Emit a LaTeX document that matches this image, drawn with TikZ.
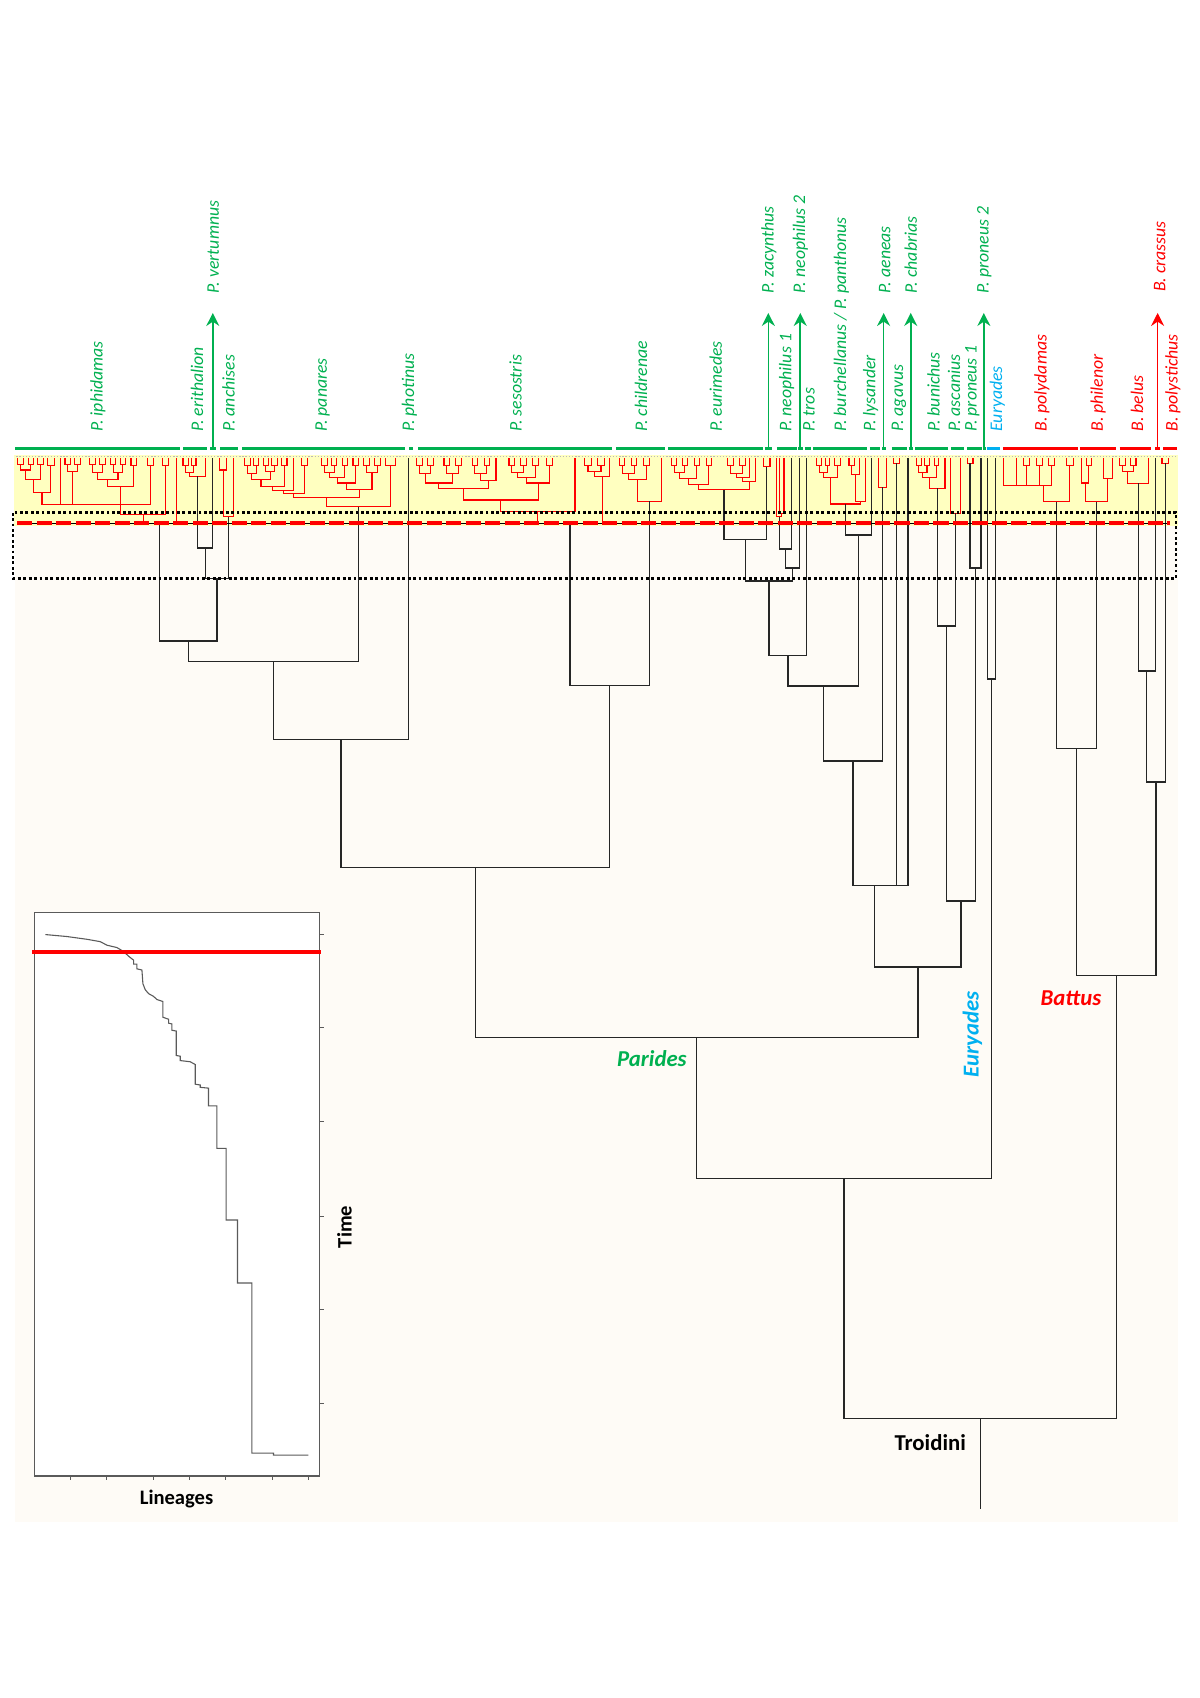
\documentclass[tikz,border=0pt]{standalone}
\usepackage{fontspec}
\setmainfont{Carlito}
\usetikzlibrary{arrows.meta,calc}
\definecolor{pgreen}{RGB}{0,176,80}
\definecolor{pblue}{RGB}{0,176,240}
\definecolor{pred}{RGB}{255,0,0}
\definecolor{pyellow}{RGB}{255,255,192}
\definecolor{pcream}{RGB}{254,251,246}
\definecolor{lttgray}{RGB}{90,90,90}
\tikzset{
  btree/.style={line width=0.6pt, black!85},
  redtree/.style={line width=0.5pt, pred},
  gbar/.style={line width=1.4pt},
  slab/.style={rotate=90, anchor=west, inner sep=0pt, font=\fontsize{8.2}{10}\selectfont\itshape},
  garrow/.style={line width=0.75pt, -{Stealth[length=6pt,width=6pt,inset=2pt]}},
  grp/.style={font=\fontsize{10.5}{12}\selectfont\bfseries\itshape, inner sep=0pt},
  axlab/.style={font=\fontsize{9.5}{11}\selectfont\bfseries, inner sep=0pt},
  ltt/.style={line width=0.5pt, lttgray},
}
\newcommand\RJ[5]{\draw[redtree] (#1,#2) -- (#1,#5) -- (#3,#5) -- (#3,#4);}
\newcommand\RC[3]{\RJ{#1}{423}{#2}{423}{#3}}
\newcommand\mnode[4]{\path let \p1=(#2), \p2=(#3), \p3=(0,#4) in coordinate (#1) at ({0.5*\x1+0.5*\x2},\y3);}
\begin{document}
\begin{tikzpicture}[x=0.5pt,y=-0.5pt]
\useasboundingbox (0,0) rectangle (1108,1568);
% backgrounds
\fill[pcream] (14,420) rectangle (1088,1405);
\fill[pyellow] (13,420) rectangle (1088,486);
\draw[gray!55, line width=0.7pt, dash pattern=on 0.6pt off 0.85pt] (15,421.5) -- (1086,421.5);

% ---------- red fine-scale trees ----------
% iphidamas
\RC{16}{22}{429}\RC{26}{31}{429}\RJ{19}{429}{28.5}{429}{434}
\RC{35}{40}{429}\RJ{23.75}{434}{37.5}{429}{443}
\RC{44}{50}{430}\RJ{30.6}{443}{47}{430}{455}
\draw[redtree] (55.5,423) -- (55.5,466);
\RC{60}{65}{429}\RC{69}{74}{429}\RJ{62.5}{429}{71.5}{429}{435}
\draw[redtree] (67,435) -- (67,466);
\RC{83}{88}{429}\RC{92}{97}{429}\RJ{85.5}{429}{94.5}{429}{436}
\RC{102}{107}{429}\RC{111}{116}{429}\RJ{104.5}{429}{113.5}{429}{436}
\RJ{90}{436}{109}{436}{443}
\RC{121}{126}{430}\RJ{99.5}{443}{123.5}{430}{449}
\draw[redtree] (111.5,449) -- (111.5,466);
\RC{136}{142}{430}
\draw[redtree] (38.8,455) -- (38.8,466) -- (139,466) -- (139,430);
\RC{150}{156}{430}
\RJ{111.5}{466}{153}{430}{475.5}
\RJ{132.25}{475.5}{163}{423}{483}
% erithalion
\RC{169}{174}{430}\RC{177}{181}{430}\RJ{171.5}{430}{179}{430}{436}
\RJ{175.25}{436}{190}{423}{440}
% anchises
\RC{203}{209}{434}\RJ{206}{434}{216}{423}{477}
% panares
\RC{226}{231}{430}\RC{234}{239}{430}\RJ{228.5}{430}{236.5}{430}{437}
\RC{243}{248}{430}\RC{251}{256}{430}\RJ{245.5}{430}{253.5}{430}{435}
\RJ{232.5}{437}{249.5}{435}{443}
\RC{260}{265}{430}\RJ{241}{443}{262.5}{430}{449}
\RJ{251.75}{449}{271}{423}{453}
\RC{278}{284}{430}\RJ{261.4}{453}{281}{430}{456}
\RC{297}{302}{430}\RC{306}{311}{430}\RJ{299.5}{430}{308.5}{430}{436}
\RC{316}{321}{430}\RJ{304}{436}{318.5}{430}{441}
\RC{326}{331}{430}\RJ{311.25}{441}{328.5}{430}{446}
\RC{336}{341}{430}\RC{346}{351}{430}\RJ{338.5}{430}{348.5}{430}{436}
\RJ{319.9}{446}{343.5}{436}{452}
\RJ{271.2}{456}{331.7}{452}{459}
\RC{356}{365}{430}
\RJ{301.45}{459}{360.5}{430}{468}
% sesostris
\RC{385}{390}{430}\RC{395}{400}{430}\RJ{387.5}{430}{397.5}{430}{437}
\RC{410}{415}{430}\RC{421}{426}{430}\RJ{412.5}{430}{423.5}{430}{437}
\RJ{392.5}{437}{418}{437}{446}
\RC{436}{441}{430}\RC{447}{452}{430}\RJ{438.5}{430}{449.5}{430}{437}
\RJ{444}{437}{458}{423}{444}
\RJ{405.25}{446}{451}{444}{451}
\RC{470}{475}{430}\RC{481}{486}{430}\RJ{472.5}{430}{483.5}{430}{436}
\RC{492}{497}{430}\RJ{478}{436}{494.5}{430}{441}
\RC{505}{510}{430}\RJ{486.25}{441}{507.5}{430}{446}
\RJ{428.1}{451}{496.9}{446}{461.7}
\RJ{462.5}{461.7}{531}{423}{472.4}
\RC{540}{546}{430}\RC{552}{558}{430}\RJ{543}{430}{555}{430}{435}
\RJ{549}{435}{563}{423}{440}
\RJ{496.75}{472.4}{556}{440}{483}
% childrenae
\RC{572}{577}{430}\RC{583}{588}{430}\RJ{574.5}{430}{585.5}{430}{437}
\RC{594}{600}{430}\RJ{580}{437}{597}{430}{443}
\RJ{588.5}{443}{611}{423}{463}
% eurimedes
\RC{620}{625}{430}\RC{630}{635}{430}\RJ{622.5}{430}{632.5}{430}{436}
\RC{641}{646}{430}\RJ{627.5}{436}{643.5}{430}{442}
\RC{652}{657}{430}\RJ{635.5}{442}{654.5}{430}{447}
\RC{672}{677}{430}\RC{683}{688}{430}\RJ{674.5}{430}{685.5}{430}{437}
\RJ{680}{437}{692}{423}{441}
\RJ{686}{441}{698}{423}{445}
\RJ{645}{447}{692}{445}{452.4}
% zacynthus, neophilus 1
\RC{705}{711}{431}
\RC{720}{724}{474}\RJ{717}{423}{722}{474}{477}
% burchellanus
\RC{754}{759}{430}\RC{762}{766}{430}\RJ{756.5}{430}{764}{430}{436}
\RC{771}{776}{430}\RJ{760.25}{436}{773.5}{430}{441}
\RC{784}{789}{430}\RJ{786.5}{430}{794}{423}{438}
\RJ{790.25}{438}{799}{423}{463}
\RJ{766.9}{441}{794.6}{463}{465.4}
% aeneas, agavus
\RC{811}{819}{450}
\RC{825}{831}{428}
% bunichus
\RC{846}{851}{430}\RC{854}{858}{430}\RJ{848.5}{430}{856}{430}{436}
\RC{863}{867}{430}\RJ{852.25}{436}{865}{430}{441}
\RJ{858.6}{441}{872.6}{423}{451}
% ascanius, proneus 1
\RC{878}{887}{474}
\RC{893}{898.5}{428}
% polydamas
\draw[redtree] (927,423) -- (927,448) -- (971,448);
\draw[redtree] (939,423) -- (939,448);
\RC{945}{951}{430}\draw[redtree] (948,430) -- (948,448);
\RC{957}{963}{430}\draw[redtree] (960,430) -- (960,448);
\RC{968}{974}{430}\draw[redtree] (971,430) -- (971,448);
\RC{985}{991}{430}
\RJ{963.4}{448}{988}{430}{463.2}
% philenor
\RC{1003}{1008}{430}\RJ{999}{423}{1005.5}{430}{446}
\RC{1019}{1027}{441.7}
\RJ{1002.25}{446}{1023}{441.7}{463.2}
% belus
\RC{1034}{1039}{430}\RC{1044}{1049}{430}\RJ{1036.5}{430}{1046.5}{430}{435}
\RJ{1041.5}{435}{1060.5}{423}{446.3}
% polystichus
\RC{1073}{1079}{428}

% ---------- black backbone tree ----------
\coordinate (iph) at (147.6,483);
\coordinate (erit) at (182.6,440);
\coordinate (vert) at (196.5,423);
\mnode{nev}{erit}{vert}{506}
\coordinate (anch) at (211,477);
\mnode{neva}{nev}{anch}{534}
\mnode{nieva}{iph}{neva}{592}
\coordinate (pan) at (331,468);
\mnode{np1}{nieva}{pan}{611}
\coordinate (phot) at (377.5,423);
\mnode{np2}{np1}{phot}{683}
\coordinate (ses) at (526.4,483);
\coordinate (chi) at (599.75,463);
\mnode{nsc}{ses}{chi}{633}
\mnode{np3}{np2}{nsc}{801}
\coordinate (eur) at (668.5,452.4);
\coordinate (zac) at (708,431);
\mnode{nez}{eur}{zac}{498}
\coordinate (neoa) at (719.5,477);
\coordinate (neob) at (731,423);
\mnode{nn1}{neoa}{neob}{507}
\coordinate (neoc) at (738.5,423);
\mnode{nn2}{nn1}{neoc}{524.5}
\mnode{nezn}{nez}{nn2}{536.5}
\coordinate (tros) at (745,423);
\mnode{nt}{nezn}{tros}{605}
\coordinate (bur) at (780.75,465.4);
\coordinate (lys) at (805,423);
\mnode{nbl}{bur}{lys}{494}
\mnode{ntb}{nt}{nbl}{633.5}
\coordinate (aen) at (815,450);
\mnode{nta}{ntb}{aen}{702.6}
\coordinate (aga) at (828,428);
\coordinate (cha) at (838.5,423);
\mnode{nx}{nta}{aga}{818}
\coordinate (bun) at (865.6,451);
\coordinate (asc) at (882.5,474);
\mnode{nba}{bun}{asc}{578}
\coordinate (pro1) at (895.75,428);
\coordinate (pro2) at (906,423);
\mnode{npr}{pro1}{pro2}{524.5}
\mnode{nbap}{nba}{npr}{832}
\mnode{npar1}{nx}{nbap}{893}
\mnode{npar}{np3}{npar1}{958}
\coordinate (eu1) at (912,423);
\coordinate (eu2) at (919,423);
\mnode{neu}{eu1}{eu2}{627}
\mnode{npe}{npar}{neu}{1088}
\coordinate (poly) at (975.7,463.2);
\coordinate (phil) at (1012.6,463.2);
\mnode{npp}{poly}{phil}{691}
\coordinate (bel) at (1051,446.3);
\coordinate (cra) at (1067,423);
\mnode{nbc}{bel}{cra}{619.5}
\coordinate (polys) at (1076,428);
\mnode{nbcp}{nbc}{polys}{722}
\mnode{nbat}{npp}{nbcp}{901}
\mnode{root}{npe}{nbat}{1310}
\coordinate (rootbase) at ($(root)+(0,83)$);
\foreach \a/\b in {iph/nieva, erit/nev, vert/nev, nev/neva, anch/neva, neva/nieva,
  nieva/np1, pan/np1, np1/np2, phot/np2, np2/np3, ses/nsc, chi/nsc, nsc/np3, np3/npar,
  eur/nez, zac/nez, nez/nezn, neoa/nn1, neob/nn1, nn1/nn2, neoc/nn2, nn2/nezn,
  nezn/nt, tros/nt, nt/ntb, bur/nbl, lys/nbl, nbl/ntb, ntb/nta, aen/nta, nta/nx,
  aga/nx, cha/nx, nx/npar1, bun/nba, asc/nba, nba/nbap, pro1/npr, pro2/npr, npr/nbap,
  nbap/npar1, npar1/npar, npar/npe, eu1/neu, eu2/neu, neu/npe, npe/root,
  poly/npp, phil/npp, npp/nbat, bel/nbc, cra/nbc, nbc/nbcp, polys/nbcp, nbcp/nbat, nbat/root}
  \draw[btree] (\a) |- (\b);
\draw[btree] (root) -- (rootbase);

% ---------- threshold line and dotted box ----------
\draw[black, line width=0.4pt] (16,483) -- (1080,483);
\draw[pred, line width=2.1pt, dash pattern=on 7pt off 2pt] (16,483) -- (1080,483);
\draw[line width=1.3pt, dash pattern=on 1.3pt off 1.2pt] (12,473.5) rectangle (1086,534);

% ---------- coloured bars ----------
\foreach \a/\b in {13.9/166.2, 169/191, 194/199.5, 203/220, 223.5/374, 377.7/381.4,
  386/565, 569/614, 617/704.5, 706/713, 717.5/736, 737/741.5, 743/749, 751/800.5,
  803/812.6, 814.5/818, 823.6/837.5, 839/843, 845/875, 878/890, 893/907, 907.6/910.5}
  \draw[gbar, pgreen] (\a,414) -- (\b,414);
\draw[gbar, pblue] (911,414) -- (923,414);
\foreach \a/\b in {926/995.4, 997/1031, 1034/1063, 1067/1071, 1074/1087}
  \draw[gbar, pred] (\a,414) -- (\b,414);

% arrows
\foreach \x in {196.5,709.5,739,816,841,908.5}
  \draw[garrow, pgreen] (\x,414) -- (\x,289);
\draw[garrow, pred] (1069,414) -- (1069,289);

% species labels
\foreach \x/\t [count=\i] in {90.5/P. iphidamas, 182/P. erithalion, 211/P. anchises,
  298/P. panares, 378/P. photinus, 476/P. sesostris, 592/P. childrenae,
  661/P. eurimedes, 726.5/P. neophilus 1, 747/P. tros, 804/P. lysander,
  830/P. agavus, 862/P. bunichus, 881/P. ascanius, 898/P. proneus 1}
  \node[slab, text=pgreen] (g\i) at (\x,399) {\t};
\node[slab, text=pgreen] (gbur) at (777,399) {P. burchellanus / P. panthonus};
\foreach \x/\t [count=\i] in {197/P. vertumnus, 710/P. zacynthus, 739/P. neophilus 2,
  817/P. aeneas, 841/P. chabrias, 909/P. proneus 2}
  \node[slab, text=pgreen] (ga\i) at (\x,271) {\t};
\node[slab, text=pblue] (geu) at (921,399) {Euryades};
\foreach \x/\t [count=\i] in {962/B. polydamas, 1014/B. philenor, 1050/B. belus,
  1083/B. polystichus}
  \node[slab, text=pred] (gb\i) at (\x,399) {\t};
\node[slab, text=pred] (gbc) at (1071,270) {B. crassus};

% group labels
\node[grp, text=pgreen] (parides) at (602,978) {Parides};
\node[grp, text=pred] (battus) at (989,922) {Battus};
\node[grp, text=pblue, rotate=90] (euryades) at (898,955) {Euryades};
\node[font=\fontsize{10.5}{12}\selectfont\bfseries, inner sep=0pt] (troidini) at (859,1332) {Troidini};

% ---------- LTT inset ----------
\fill[white] (32,843) rectangle (295,1363);
\draw[lttgray, line width=0.5pt] (32,843) rectangle (295,1363);
\foreach \y in {863,949.2,1035.7,1123,1209.2,1295.7}
  \draw[lttgray, line width=0.5pt] (295,\y) -- (299,\y);
\foreach \x in {64.9,98.1,141.8,175,208.2,251.9,284.8}
  \draw[lttgray, line width=0.5pt] (\x,1363) -- (\x,1367);
\begin{scope}[shift={(0.32,832.1)}, xscale=0.3076, yscale=0.3636]
\draw[ltt] (135,85) -- (200,90) -- (260,97) -- (300,103) -- (320,112) -- (350,118)
  -- (370,128) -- (385,140) -- (400,150) -- (400,160) -- (410,160) -- (410,172)
  -- (425,175) -- (428,210) -- (435,225) -- (445,235) -- (460,242) -- (470,250)
  -- (488,255) -- (488,295) -- (505,300) -- (505,310) -- (515,312) -- (515,328)
  -- (528,330) -- (528,392) -- (540,394) -- (540,405) -- (570,408) -- (585,415)
  -- (585,465) -- (600,467) -- (600,473) -- (625,475) -- (625,520) -- (650,520)
  -- (650,628) -- (678,628) -- (678,810) -- (712,810) -- (712,970) -- (755,970)
  -- (755,1402) -- (820,1402) -- (820,1407) -- (925,1407);
\end{scope}
\draw[pred, line width=1.8pt] (29.5,879.5) -- (296.5,879.5);
\node[axlab, rotate=90] (time) at (318,1133) {Time};
\node[axlab] (lineages) at (163,1384) {Lineages};
\end{tikzpicture}
\end{document}
